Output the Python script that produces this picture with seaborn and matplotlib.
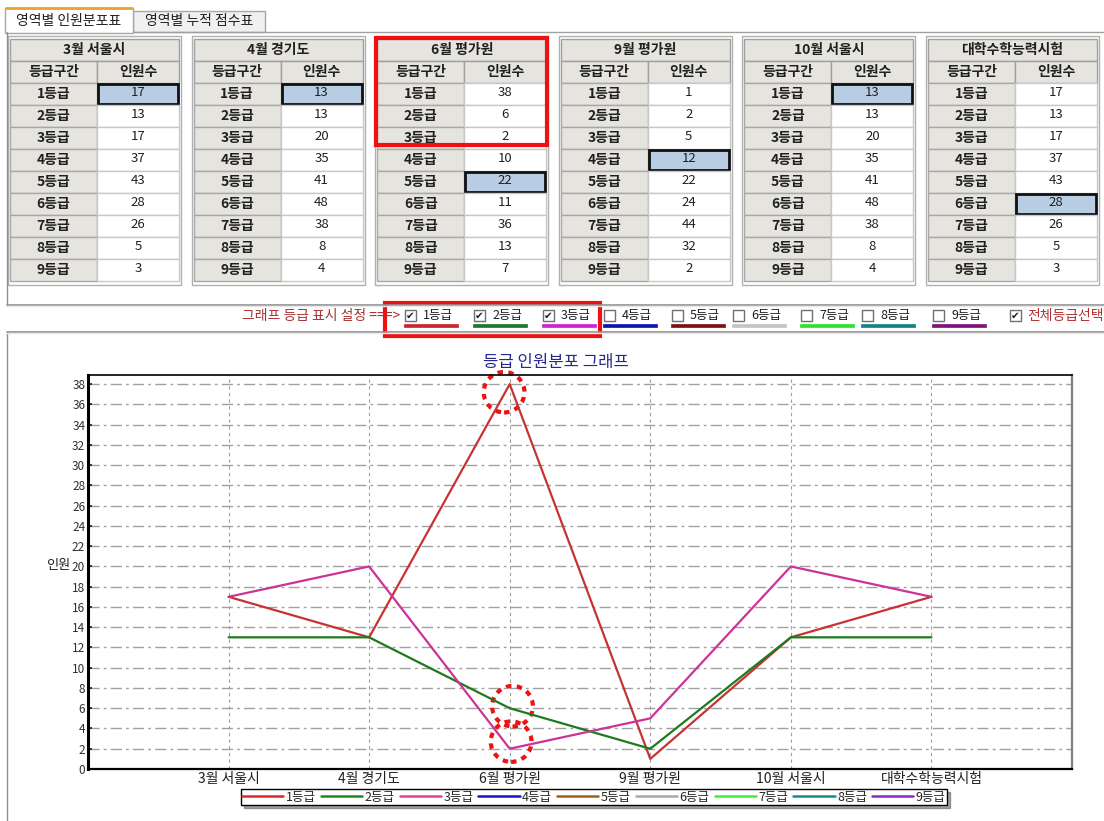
import numpy as np
import pandas as pd
import seaborn as sns
import matplotlib
matplotlib.use("Agg")
import matplotlib.pyplot as plt
from matplotlib.patches import Rectangle, Ellipse
from matplotlib.lines import Line2D

sns.set_theme(style="white")
plt.rcParams['font.family'] = ['Noto Sans CJK KR', 'DejaVu Sans']

# ---- data ----
exams = ["3월 서울시", "4월 경기도", "6월 평가원", "9월 평가원", "10월 서울시", "대학수학능력시험"]
grades = ["1등급", "2등급", "3등급", "4등급", "5등급", "6등급", "7등급", "8등급", "9등급"]
counts_mar = [17, 13, 17, 37, 43, 28, 26, 5, 3]
counts_apr = [13, 13, 20, 35, 41, 48, 38, 8, 4]
counts_jun = [38, 6, 2, 10, 22, 11, 36, 13, 7]
counts_sep = [1, 2, 5, 12, 22, 24, 44, 32, 2]
counts_oct = [13, 13, 20, 35, 41, 48, 38, 8, 4]
counts_csat = [17, 13, 17, 37, 43, 28, 26, 5, 3]
selected_cell = [0, 0, 4, 3, 0, 5]
checked = [True, True, True, False, False, False, False, False, False]

# colours
check_bar_colors = ["#c8262e", "#1a7a2a", "#d21fd2", "#0a14b4", "#7a1212",
                    "#c4c4c4", "#2ee02e", "#128282", "#7e127e"]
line_colors = ["#e02828", "#1c8a1c", "#e0409c", "#1414c8", "#a0601a",
               "#a8a8a8", "#3cf03c", "#148c8c", "#8a28c8"]

all_counts = [counts_mar, counts_apr, counts_jun, counts_sep, counts_oct, counts_csat]

W, H = 1104, 821
fig = plt.figure(figsize=(W / 100, H / 100), dpi=100)
fig.patch.set_facecolor("white")

# overlay in pixel coords for the form controls
ui = fig.add_axes([0, 0, 1, 1], zorder=0)
ui.set_xlim(0, W)
ui.set_ylim(H, 0)
ui.axis("off")


def box(x, y, w, h, face, edge="#a0a0a0", lw=1.0, **kw):
    ui.add_patch(Rectangle((x, y), w, h, facecolor=face, edgecolor=edge, lw=lw, **kw))


# tabs
ui.plot([133, W], [32, 32], color="#a0a0a0", lw=1)
box(133, 11, 132, 21, "#f0f0f0", "#a8a8a8")
ui.text(199, 21.5, "영역별 누적 점수표", ha="center", va="center", fontsize=10, color="#202020")
box(5, 8, 128, 25, "white", "#a8a8a8")
ui.plot([6, 132], [8.5, 8.5], color="#f0a030", lw=2)
ui.text(69, 20.5, "영역별 인원분포표", ha="center", va="center", fontsize=10, color="#202020")

# panel frame
ui.plot([7, 7], [32, 305], color="#909090", lw=1)
ui.plot([7, 7], [332, H], color="#909090", lw=1)
for yy in (305, 332):
    ui.plot([7, W], [yy, yy], color="#909090", lw=1.2)
    ui.plot([7, W], [yy + 1.5, yy + 1.5], color="#e8e8e8", lw=1)

# tables
btn_face = "#e6e4de"
row_h = 22
for i, (title, vals) in enumerate(zip(exams, all_counts)):
    ox = 10 + i * 183.6
    box(ox - 2, 36, 173, 249, "white", "#b0b0b0")
    box(ox, 39, 169, 22, btn_face, "#a0a0a0")
    ui.text(ox + 84.5, 50, title, ha="center", va="center", fontsize=10,
            fontweight="bold", color="#202020")
    box(ox, 61, 87, 22, btn_face, "#a0a0a0")
    box(ox + 87, 61, 82, 22, btn_face, "#a0a0a0")
    ui.text(ox + 43.5, 72, "등급구간", ha="center", va="center", fontsize=10,
            fontweight="bold", color="#202020")
    ui.text(ox + 128, 72, "인원수", ha="center", va="center", fontsize=10,
            fontweight="bold", color="#202020")
    for r, (g, v) in enumerate(zip(grades, vals)):
        ry = 83 + r * row_h
        box(ox, ry, 87, row_h, btn_face, "#a8a8a8")
        ui.text(ox + 43.5, ry + 11, g, ha="center", va="center", fontsize=10,
                fontweight="bold", color="#202020")
        if r == selected_cell[i]:
            box(ox + 88, ry + 1, 80, row_h - 2, "#b8cce4", "#101010", lw=2)
        else:
            box(ox + 87, ry, 82, row_h, "white", "#c8c8c8")
        ui.text(ox + 128, ry + 10, str(v), ha="center", va="center", fontsize=9.5,
                color="#202020")

# red highlight boxes
box(376, 38, 171, 107, "none", "#ee1111", lw=3)
box(385, 303, 215, 33, "none", "#ee1111", lw=3)

# grade checkbox row
ui.text(400, 316, "그래프 등급 표시 설정 ===>", ha="right", va="center",
        fontsize=10, color="#a83232")
cb_x = [405, 474, 543, 604, 672, 733, 801, 862, 933]
for g, cx, col, on in zip(grades, cb_x, check_bar_colors, checked):
    box(cx, 310, 11, 11, "white", "#707070")
    if on:
        ui.text(cx + 5.5, 316, "✔", ha="center", va="center", fontsize=7.5,
                color="#202020", family="DejaVu Sans")
    ui.text(cx + 18, 316, g, ha="left", va="center", fontsize=9, color="#202020")
    box(cx - 1, 324, 54, 3.5, col, col, lw=0.5)
box(1010, 310, 11, 11, "white", "#707070")
ui.text(1015.5, 316, "✔", ha="center", va="center", fontsize=7.5,
        color="#202020", family="DejaVu Sans")
ui.text(1027, 316, "전체등급선택", ha="left", va="center", fontsize=10, color="#b03030")

# ---- chart ----
rows = []
for g_i, g in enumerate(grades):
    if not checked[g_i]:
        continue
    for e, vals in zip(exams, all_counts):
        rows.append({"exam": e, "count": vals[g_i], "grade": g})
df = pd.DataFrame(rows)

ax_l, ax_r, ax_t, ax_b = 88, 1072, 375, 769
ax = fig.add_axes([ax_l / W, 1 - ax_b / H, (ax_r - ax_l) / W, (ax_b - ax_t) / H], zorder=1)
sns.lineplot(data=df, x="exam", y="count", hue="grade", sort=False,
             palette={"1등급": "#c83232", "2등급": "#1e7a1e", "3등급": "#cc3399"},
             lw=1.6, legend=False, ax=ax)
ax.set_xlim(-1, 6)
ax.set_ylim(0, 38.9)
ax.set_yticks(np.arange(0, 39, 2))
ax.set_xticks(range(len(exams)))
ax.set_xticklabels(exams, fontsize=10, color="#202020")
ax.tick_params(axis="y", labelsize=8.5, labelcolor="#303030", length=3,
               direction="in", pad=2, left=True)
ax.tick_params(axis="x", length=0, pad=2)
ax.set_xlabel("")
ax.set_ylabel("인원", rotation=0, fontsize=9.5, color="#202020", labelpad=6)
ax.yaxis.set_label_coords(-0.03, 0.5)
ax.grid(False)
ax.yaxis.grid(True, linestyle=(0, (8, 3, 2, 3)), color="#a0a0a0", lw=1)
ax.xaxis.grid(True, linestyle=(0, (3, 3)), color="#a0a0a0", lw=0.8)
ax.set_axisbelow(True)
for side, c, lw in (("left", "black", 2.2), ("top", "black", 1.2),
                    ("right", "#808080", 1.6), ("bottom", "black", 1.6)):
    ax.spines[side].set_visible(True)
    ax.spines[side].set_color(c)
    ax.spines[side].set_linewidth(lw)
ax.set_title("등급 인원분포 그래프", fontsize=12, color="#28288a", pad=6, x=0.476)

# dotted red circles around the 6월 평가원 points of grades 1-3
jun = exams.index("6월 평가원")
for g_i, dx, dy in ((0, -0.04, -0.8), (1, 0.02, 0.2), (2, 0.01, 0.7)):
    ax.add_patch(Ellipse((jun + dx, counts_jun[g_i] + dy), 0.29, 4.0, fill=False,
                         edgecolor="#ee1111", lw=3, linestyle=(0, (1.3, 1.3)), clip_on=False))

handles = [Line2D([0], [0], color=c, lw=1.8) for c in line_colors]
leg = fig.legend(handles, grades, loc="center", ncol=9,
                 bbox_to_anchor=(594 / W, 1 - 797 / H), fontsize=9,
                 frameon=True, fancybox=False, shadow=True, handlelength=3.3,
                 handletextpad=0.2, columnspacing=0.4, borderpad=0.1)
leg.get_frame().set_edgecolor("black")
leg.get_frame().set_linewidth(1.0)

fig.savefig("out.png", dpi=100, facecolor="white")
